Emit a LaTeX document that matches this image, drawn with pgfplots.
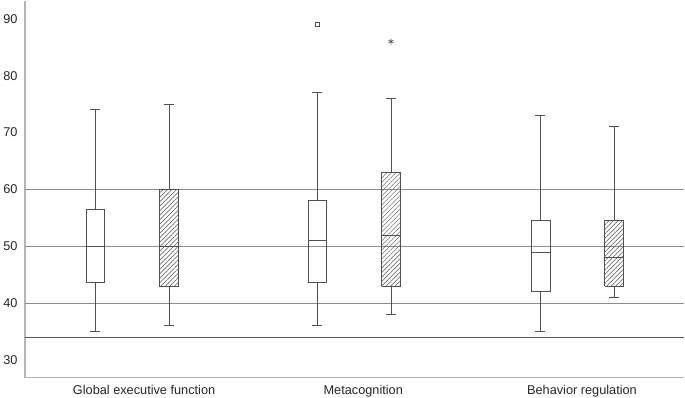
\documentclass[border=0pt]{standalone}
\usepackage{pgfplots}
\pgfplotsset{compat=1.18}
\usetikzlibrary{patterns.meta}
\usepackage{fontspec}
\setmainfont{Liberation Sans}
\definecolor{boxc}{HTML}{505050}
\definecolor{axisc}{HTML}{B4B4B4}
\definecolor{gridc}{HTML}{8C8C8C}
\definecolor{refc}{HTML}{5A5A5A}

\pgfplotsset{
  bx/.style={boxc, line width=0.7pt, no markers, unbounded coords=jump},
  hatch/.style={draw=none, pattern={Lines[angle=45, distance=3.2pt, line width=0.5pt]}, pattern color=boxc},
}

\begin{document}
\begin{tikzpicture}
\begin{axis}[
  scale only axis, width=663pt, height=379pt,
  xmin=0, xmax=3, ymin=26.9, ymax=93.2,
  axis x line=bottom, axis y line=left,
  axis line style={-, draw=axisc, line width=1.2pt},
  xtick={0.542,1.539,2.534},
  xticklabels={Global executive function, Metacognition, Behavior regulation},
  ytick={30,40,...,90},
  major tick length=0pt,
  tick label style={font=\fontsize{12.8}{14}\selectfont, text=black!85},
  yticklabel style={xshift=-4pt},
  xticklabel style={inner sep=0pt, yshift=-8pt},
  /pgf/number format/assume math mode=true,
]
% reference lines
\addplot[gridc, line width=0.9pt] coordinates {(0,40) (3,40)};
\addplot[gridc, line width=0.9pt] coordinates {(0,50) (3,50)};
\addplot[gridc, line width=0.9pt] coordinates {(0,60) (3,60)};
\addplot[refc, line width=1pt] coordinates {(0,34) (3,34)};

% hatching of the second box in each group (lower to upper quartile)
\addplot[hatch] coordinates {(0.612,43) (0.698,43) (0.698,60) (0.612,60) (0.612,43)};
\addplot[hatch] coordinates {(1.622,43) (1.708,43) (1.708,63) (1.622,63) (1.622,43)};
\addplot[hatch] coordinates {(2.637,43) (2.723,43) (2.723,54.5) (2.637,54.5) (2.637,43)};

% boxes: box, median, whiskers, caps
% Global executive function (35, 43.6, 50, 56.5, 74)
\addplot[bx] coordinates {(0.277,43.6) (0.363,43.6) (0.363,56.5) (0.277,56.5) (0.277,43.6) (nan,nan)
  (0.277,50) (0.363,50) (nan,nan) (0.32,43.6) (0.32,35) (nan,nan) (0.32,56.5) (0.32,74) (nan,nan)
  (0.2975,35) (0.3425,35) (nan,nan) (0.2975,74) (0.3425,74)};
% (36, 43, 50, 60, 75)
\addplot[bx] coordinates {(0.612,43) (0.698,43) (0.698,60) (0.612,60) (0.612,43) (nan,nan)
  (0.612,50) (0.698,50) (nan,nan) (0.655,43) (0.655,36) (nan,nan) (0.655,60) (0.655,75) (nan,nan)
  (0.6325,36) (0.6775,36) (nan,nan) (0.6325,75) (0.6775,75)};

% Metacognition (36, 43.6, 51, 58, 77), outlier 89
\addplot[bx] coordinates {(1.287,43.6) (1.373,43.6) (1.373,58) (1.287,58) (1.287,43.6) (nan,nan)
  (1.287,51) (1.373,51) (nan,nan) (1.33,43.6) (1.33,36) (nan,nan) (1.33,58) (1.33,77) (nan,nan)
  (1.3075,36) (1.3525,36) (nan,nan) (1.3075,77) (1.3525,77)};
% (38, 43, 52, 63, 76), outlier 86
\addplot[bx] coordinates {(1.622,43) (1.708,43) (1.708,63) (1.622,63) (1.622,43) (nan,nan)
  (1.622,52) (1.708,52) (nan,nan) (1.665,43) (1.665,38) (nan,nan) (1.665,63) (1.665,76) (nan,nan)
  (1.6425,38) (1.6875,38) (nan,nan) (1.6425,76) (1.6875,76)};
\addplot[boxc, only marks, mark=square, mark size=2.3pt, line width=0.7pt] coordinates {(1.33,89)};
\addplot[boxc, only marks, mark=asterisk, mark size=3pt, line width=0.6pt] coordinates {(1.665,86)};

% Behavior regulation (35, 42, 49, 54.5, 73)
\addplot[bx] coordinates {(2.302,42) (2.388,42) (2.388,54.5) (2.302,54.5) (2.302,42) (nan,nan)
  (2.302,49) (2.388,49) (nan,nan) (2.345,42) (2.345,35) (nan,nan) (2.345,54.5) (2.345,73) (nan,nan)
  (2.3225,35) (2.3675,35) (nan,nan) (2.3225,73) (2.3675,73)};
% (41, 43, 48, 54.5, 71)
\addplot[bx] coordinates {(2.637,43) (2.723,43) (2.723,54.5) (2.637,54.5) (2.637,43) (nan,nan)
  (2.637,48) (2.723,48) (nan,nan) (2.68,43) (2.68,41) (nan,nan) (2.68,54.5) (2.68,71) (nan,nan)
  (2.6575,41) (2.7025,41) (nan,nan) (2.6575,71) (2.7025,71)};
\end{axis}
\end{tikzpicture}
\end{document}
